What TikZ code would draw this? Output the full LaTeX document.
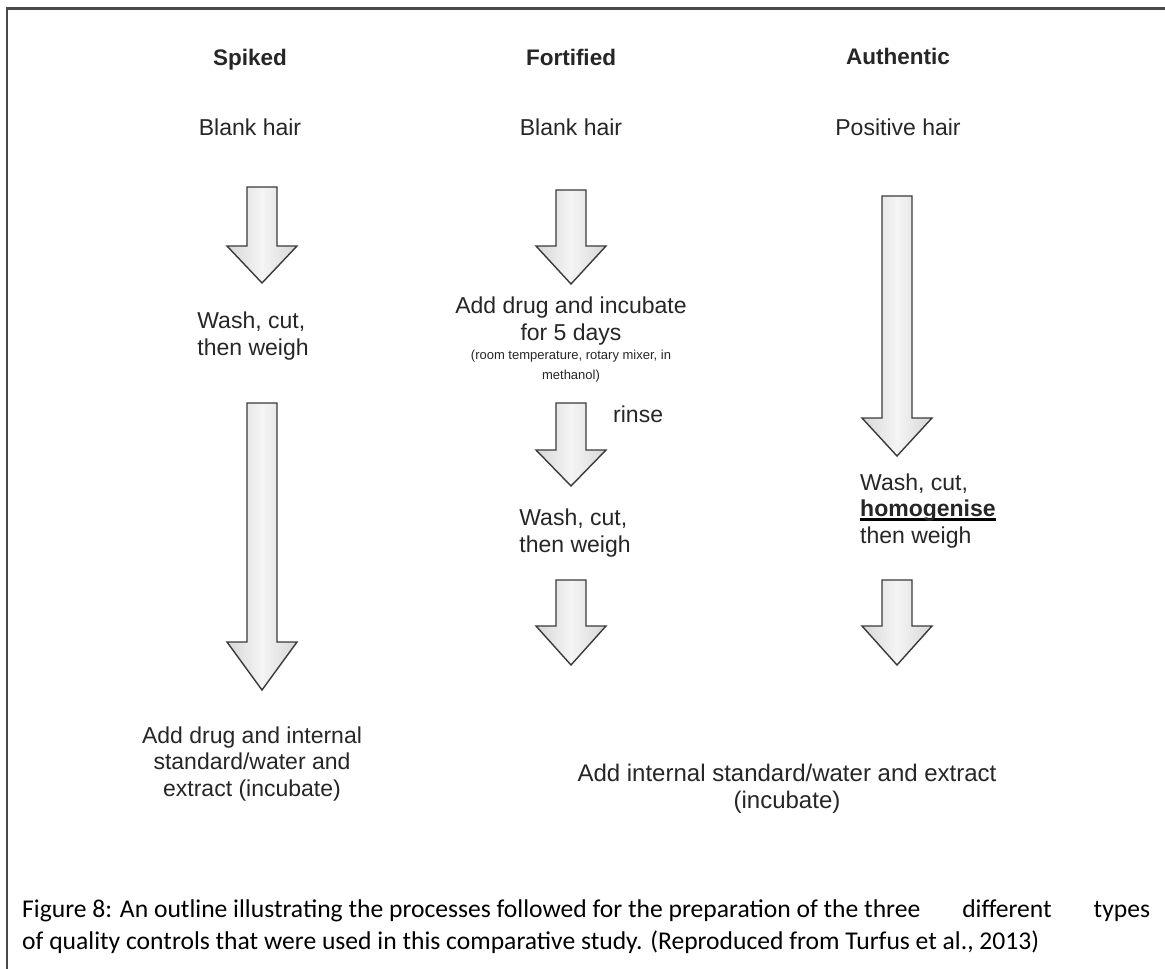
\documentclass[tikz,border=0pt]{standalone}
\usepackage{fontspec}
\setmainfont{Liberation Sans}
\newfontfamily\capfont{Carlito}
\definecolor{txt}{HTML}{262626}
\definecolor{edge}{HTML}{3A3A3A}
\definecolor{frame}{HTML}{4A4A4A}
\newcommand\thickul[1]{\setbox0\hbox{#1}\rlap{\color{black}\rule[-4pt]{\wd0}{2.6pt}}\box0}
\tikzset{
  lbl/.style={inner sep=0pt, text=txt, font=\fontsize{23}{26.5}\selectfont},
  head/.style={inner sep=0pt, anchor=base, text=txt, font=\fontsize{22.5}{26}\selectfont\bfseries},
  small/.style={inner sep=0pt, text=txt, font=\fontsize{13}{20}\selectfont, align=center},
  captxt/.style={inner sep=0pt, anchor=base west, text=black, font=\capfont\fontsize{25.6}{32}\selectfont},
  blockarrow/.style={draw=edge, line width=1.4pt, line join=miter,
    left color=gray!32, right color=gray!32, middle color=gray!8},
}
% \barrow{name}{cx}{top}{headbase}{tip}
\newcommand\barrow[5]{%
  \path[blockarrow] (#2-15,#3) -- (#2+15,#3) -- (#2+15,#4) -- (#2+35,#4)
    -- (#2,#5) coordinate (#1) -- (#2-35,#4) -- (#2-15,#4) -- cycle;}
\begin{document}
\begin{tikzpicture}[x=1pt,y=-1pt]
\useasboundingbox (0,0) rectangle (1165,969);
\fill[white] (0,0) rectangle (1165,969);
% frame
\draw[frame, line width=2.4pt] (7,969) -- (7,8.5) -- (1165,8.5);

% headings
\node[head] (hs) at (250,65) {Spiked};
\node[head] (hf) at (571,65) {Fortified};
\node[head] (ha) at (898,64) {Authentic};

% starting materials
\node[lbl, anchor=base] (s0) at (250,135) {Blank hair};
\node[lbl, anchor=base] (f0) at (571,135) {Blank hair};
\node[lbl, anchor=base] (a0) at (898,135) {Positive hair};

% Spiked column
\barrow{sa1}{262}{187}{246}{283}
\node[lbl, align=left] (s1) at (253,336) {Wash, cut,\\then weigh};
\barrow{sa2}{262}{403}{642}{690}
\node[lbl, align=center] (s2) at (252,764) {Add drug and internal\\standard/water and\\extract (incubate)};

% Fortified column
\barrow{fa1}{571}{190}{246}{284}
\node[lbl, align=center] (f1) at (571,321) {Add drug and incubate\\for 5 days};
\node[small] (f1s) at (571,366) {(room temperature, rotary mixer, in\\methanol)};
\barrow{fa2}{571}{403}{450}{486}
\node[lbl, anchor=west] (rinse) at (613,414) {rinse};
\barrow{fa3}{571}{580}{626}{665}
\node[lbl, align=left] (f2) at (575,533) {Wash, cut,\\then weigh};

% Authentic column
\barrow{aa1}{897}{196}{418}{456}
\node[lbl, align=left, anchor=west] (a1) at (860,511) {Wash, cut,\\\thickul{\textbf{homogenise}}\\then weigh};
\barrow{aa2}{897}{580}{626}{665}

% shared final step
\node[lbl, align=center, font=\fontsize{24}{26.5}\selectfont] (fin) at (787,789) {Add internal standard/water and extract\\(incubate)};

% caption
\node[captxt] (cap1) at (22,917)
  {\hbox to 1128pt{Figure 8: An outline illustrating the processes followed for the preparation of the three\hfill different\hfill types}};
\node[captxt] (cap2) at (22,949)
  {of quality controls that were used in this comparative study. (Reproduced from Turfus et al., 2013)};
\end{tikzpicture}
\end{document}
